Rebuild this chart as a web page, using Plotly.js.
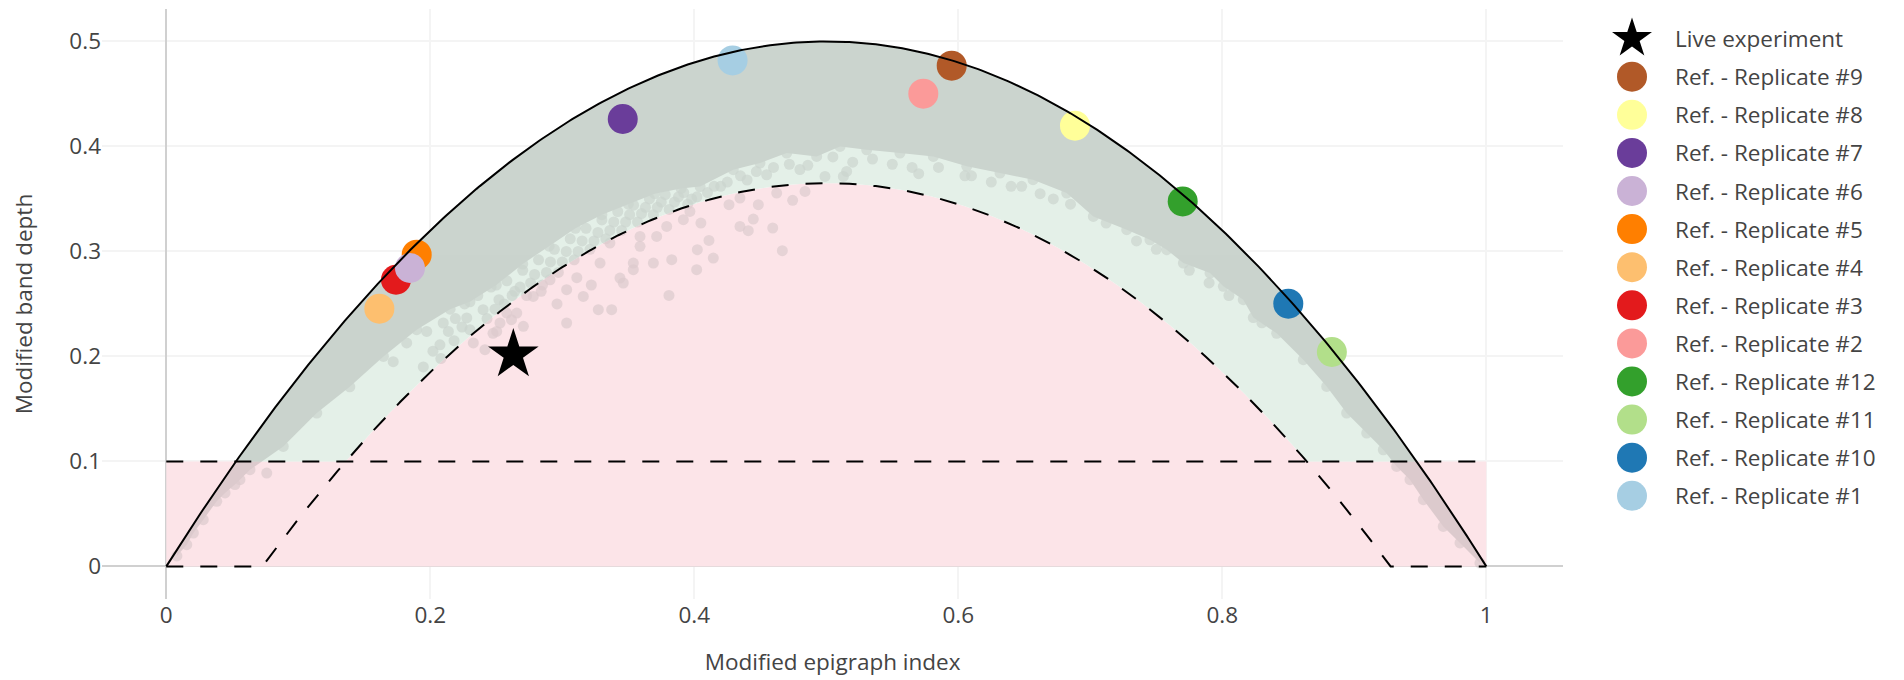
<!DOCTYPE html>
<html>
<head>
<meta charset="utf-8">
<script src="https://cdn.plot.ly/plotly-3.0.1.min.js"></script>
<style>
  html, body { margin: 0; padding: 0; background: #fff; }
  #chart { width: 1904px; height: 680px; }
</style>
</head>
<body>
<div id="chart"></div>
<script>
// Outliergram: modified epigraph index (MEI) against modified band depth (MBD)

// ---- reference replicates (one summary point each) ----
const replicateNames = [
  'Ref. - Replicate #1', 'Ref. - Replicate #10', 'Ref. - Replicate #11', 'Ref. - Replicate #12',
  'Ref. - Replicate #2', 'Ref. - Replicate #3', 'Ref. - Replicate #4', 'Ref. - Replicate #5',
  'Ref. - Replicate #6', 'Ref. - Replicate #7', 'Ref. - Replicate #8', 'Ref. - Replicate #9'
];
const replicateMEI = [0.429, 0.850, 0.883, 0.770, 0.5735, 0.174, 0.1614, 0.1897, 0.1846, 0.3458, 0.6884, 0.595];
const replicateMBD = [0.4819, 0.2502, 0.2042, 0.3476, 0.4502, 0.273, 0.2454, 0.2969, 0.2842, 0.4261, 0.4197, 0.4769];
const replicateColors = ['#a6cee3', '#1f78b4', '#b2df8a', '#33a02c', '#fb9a99', '#e31a1c',
                         '#fdbf6f', '#ff7f00', '#cab2d6', '#6a3d9a', '#ffff99', '#b15928'];

// ---- live experiment ----
const liveName = 'Live experiment';
const liveMEI = [0.2629];
const liveMBD = [0.2016];

// ---- theoretical bound MBD = a0 + a1*MEI + a2*MEI^2, and outlier thresholds ----
const boundCoef = [0, 2, -2];
const thresholdOffset = 0.135;
const mbdCutoff = 0.1;

// ---- reference curves: lower edge of the dense band (its upper edge is the bound) ----
const cloudEdgeMEI = [0.008, 0.0155, 0.0205, 0.028, 0.0382, 0.0445, 0.052, 0.0558, 0.0634, 0.0886,
  0.114, 0.139, 0.1645, 0.1897, 0.215, 0.23, 0.25, 0.27, 0.29, 0.31, 0.33, 0.35, 0.37, 0.39, 0.4044,
  0.4295, 0.4498, 0.47, 0.4927, 0.5104, 0.5306, 0.5558, 0.5811, 0.6064, 0.6316, 0.6566, 0.6821, 0.7023,
  0.7276, 0.7452, 0.7579, 0.7705, 0.7907, 0.8008, 0.8159, 0.8235, 0.8412, 0.8614, 0.8791, 0.8942,
  0.9094, 0.922, 0.9321, 0.9422, 0.9523, 0.9674, 0.9801, 0.9952];
const cloudEdgeMBD = [0.010, 0.0207, 0.0318, 0.0445, 0.062, 0.070, 0.078, 0.0826, 0.0921, 0.1143,
  0.146, 0.171, 0.200, 0.2254, 0.245, 0.252, 0.268, 0.288, 0.305, 0.322, 0.335, 0.345, 0.355, 0.36, 0.3617,
  0.3778, 0.3841, 0.3937, 0.3905, 0.40, 0.3968, 0.3937, 0.3905, 0.381, 0.3746, 0.3683, 0.3556, 0.3333,
  0.3207, 0.3111, 0.3016, 0.2889, 0.2794, 0.2667, 0.254, 0.237, 0.222, 0.1969, 0.1714, 0.1461,
  0.127, 0.1111, 0.0952, 0.0826, 0.0635, 0.0381, 0.0223, 0.0032];

// ---- reference curves lying outside the dense band ----
const cloudDotMEI = [
  0.0761, 0.1719, 0.1821, 0.1947, 0.1973, 0.2073, 0.2098, 0.2137, 0.2276, 0.230, 0.240,
  0.202, 0.208, 0.218, 0.224, 0.219, 0.243, 0.249, 0.256, 0.262, 0.268, 0.273, 0.279, 0.285, 0.291,
  0.297, 0.303, 0.309, 0.315, 0.321, 0.327, 0.333, 0.339, 0.345, 0.351, 0.357, 0.363, 0.369, 0.375,
  0.381, 0.388, 0.395, 0.402,
  0.226, 0.236, 0.246, 0.252, 0.258, 0.264, 0.27, 0.276, 0.282, 0.288, 0.294, 0.30, 0.306, 0.312,
  0.318, 0.324, 0.33, 0.336, 0.342, 0.348, 0.354, 0.36, 0.366, 0.372, 0.378, 0.385, 0.392, 0.398,
  0.41, 0.42, 0.44, 0.4548, 0.48, 0.499, 0.5129, 0.5154, 0.57, 0.605, 0.64, 0.672, 0.735, 0.79,
  0.415, 0.425, 0.435, 0.447, 0.46, 0.472, 0.486, 0.505, 0.52, 0.535, 0.55, 0.565, 0.585, 0.61,
  0.625, 0.648, 0.662, 0.685, 0.712, 0.75, 0.775, 0.805, 0.83,
  0.2326, 0.2414, 0.2503, 0.2528, 0.2579, 0.2655, 0.2705, 0.278, 0.2907, 0.3033, 0.3033, 0.3159,
  0.3273, 0.3286, 0.3374, 0.3361, 0.3437, 0.3462, 0.3538, 0.3538, 0.3589, 0.3589, 0.369, 0.3715,
  0.3791, 0.3808, 0.3829, 0.3917, 0.3967, 0.4018, 0.4023, 0.405, 0.4111, 0.4144, 0.4263, 0.4346,
  0.4346, 0.4409, 0.4447, 0.4485, 0.4594, 0.4624, 0.4667, 0.4745, 0.4839,
  0.284, 0.296, 0.311, 0.322, 0.2475, 0.2615
];
const cloudDotMBD = [
  0.0889, 0.195, 0.2128, 0.190, 0.2238, 0.211, 0.2318, 0.2238, 0.2366, 0.2254, 0.2445,
  0.205, 0.198, 0.215, 0.228, 0.236, 0.236, 0.245, 0.25, 0.258, 0.266, 0.258, 0.278, 0.268, 0.29,
  0.28, 0.30, 0.292, 0.31, 0.302, 0.318, 0.312, 0.328, 0.32, 0.335, 0.328, 0.342, 0.335, 0.347,
  0.34, 0.352, 0.345, 0.352,
  0.250, 0.258, 0.266, 0.254, 0.272, 0.262, 0.282, 0.27, 0.292, 0.28, 0.302, 0.29, 0.312, 0.30,
  0.322, 0.31, 0.33, 0.32, 0.338, 0.328, 0.344, 0.336, 0.35, 0.342, 0.354, 0.347, 0.356, 0.35,
  0.356, 0.362, 0.368, 0.373, 0.378, 0.3714, 0.3714, 0.3762, 0.374, 0.372, 0.362, 0.35, 0.31, 0.27,
  0.362, 0.366, 0.372, 0.376, 0.38, 0.383, 0.382, 0.39, 0.385, 0.388, 0.383, 0.38, 0.38, 0.372,
  0.366, 0.362, 0.355, 0.345, 0.327, 0.302, 0.282, 0.258, 0.232,
  0.2128, 0.2064, 0.2238, 0.2318, 0.2413, 0.2413, 0.2286, 0.2571, 0.273, 0.2318, 0.2635, 0.2571,
  0.2445, 0.2889, 0.2445, 0.308, 0.2746, 0.2699, 0.2826, 0.2889, 0.3048, 0.3143, 0.2889, 0.3143,
  0.3238, 0.2581, 0.2921, 0.3302, 0.3381, 0.2826, 0.3016, 0.327, 0.3105, 0.2937, 0.3445, 0.3238,
  0.3508, 0.3197, 0.3308, 0.3445, 0.3223, 0.3556, 0.3007, 0.3486, 0.3571,
  0.262, 0.25, 0.275, 0.268, 0.222, 0.235
];

// ---- styling ----
const FONT = '"Open Sans", verdana, arial, sans-serif';
const FONT_SIZE = 22.5;
const TEXT_COLOR = '#444';
const PINK = '#fce4e8';
const GREEN = '#e4f0e8';
const CLOUD_GRAY = '#808080';
const DOT_SIZE = 11;
const REPLICATE_SIZE = 30;
const STAR_SIZE = 38;
const DASH = '17px,17px';

function boundMBD(m) { return boundCoef[0] + boundCoef[1] * m + boundCoef[2] * m * m; }
function thresholdMBD(m) { return boundMBD(m) - thresholdOffset; }

// evaluation grid for the analytic curves
const GRID_STEPS = 400;
const grid = [];
for (let i = 0; i <= GRID_STEPS; i++) grid.push(i / GRID_STEPS);

const pinkTop = grid.map(m => Math.max(mbdCutoff, thresholdMBD(m)));
const greenTop = grid.map((m, i) => Math.max(boundMBD(m), pinkTop[i]));

// dense band polygon + individual curves, in one trace so overlaps do not darken
const e0 = cloudEdgeMEI[0], e1 = cloudEdgeMEI[cloudEdgeMEI.length - 1];
const upperX = [e0].concat(grid.filter(m => m > e0 && m < e1), [e1]);
const cloudX = upperX.concat(cloudEdgeMEI.slice().reverse());
const cloudY = upperX.map(boundMBD).concat(cloudEdgeMBD.slice().reverse());
const cloudS = upperX.map(() => 0).concat(cloudEdgeMEI.map(() => DOT_SIZE));
cloudDotMEI.forEach((m, i) => {
  cloudX.push(null, m); cloudY.push(null, cloudDotMBD[i]); cloudS.push(0, DOT_SIZE);
});

const traces = [];

traces.push({
  x: grid, y: pinkTop, mode: 'none', fill: 'tozeroy', fillcolor: PINK,
  hoverinfo: 'skip', showlegend: false
});
traces.push({
  x: grid, y: greenTop, mode: 'none', fill: 'tonexty', fillcolor: GREEN,
  hoverinfo: 'skip', showlegend: false
});
traces.push({
  x: cloudX, y: cloudY, mode: 'markers', fill: 'toself', fillcolor: CLOUD_GRAY,
  marker: { color: CLOUD_GRAY, size: cloudS, line: { width: 0 } },
  opacity: 0.25, connectgaps: false, hoverinfo: 'skip', showlegend: false
});

replicateNames.forEach((name, i) => {
  traces.push({
    x: [replicateMEI[i]], y: [replicateMBD[i]], name: name, mode: 'markers',
    marker: { color: replicateColors[i], size: REPLICATE_SIZE, line: { width: 0 } },
    showlegend: false
  });
});

traces.push({
  x: grid, y: grid.map(boundMBD), mode: 'lines',
  line: { color: '#000', width: 2 }, hoverinfo: 'skip', showlegend: false
});
traces.push({
  x: grid, y: grid.map(m => Math.max(0, thresholdMBD(m))), mode: 'lines',
  line: { color: '#000', width: 2, dash: DASH }, hoverinfo: 'skip', showlegend: false
});
traces.push({
  x: [0, 1], y: [mbdCutoff, mbdCutoff], mode: 'lines',
  line: { color: '#000', width: 2, dash: DASH }, hoverinfo: 'skip', showlegend: false
});

traces.push({
  x: liveMEI, y: liveMBD, name: liveName, mode: 'markers',
  marker: { symbol: 'star', color: '#000', size: STAR_SIZE, line: { width: 0 } },
  showlegend: false
});

// ---- legend drawn on its own hidden axes ----
const legendNames = [liveName].concat(replicateNames.slice().reverse());
const legendColors = ['#000'].concat(replicateColors.slice().reverse());
const legendSymbols = ['star'].concat(replicateNames.map(() => 'circle'));
const legendIndex = legendNames.map((_, i) => i);
const LEGEND_ROW0 = 38.6, LEGEND_ROW_STEP = 38.1;   // px from top of figure
const PLOT_TOP = 9, PLOT_BOTTOM = 599;
const legendRange = [(PLOT_BOTTOM - LEGEND_ROW0) / LEGEND_ROW_STEP, (PLOT_TOP - LEGEND_ROW0) / LEGEND_ROW_STEP];

traces.push({
  x: legendIndex.map(() => 42), y: legendIndex, xaxis: 'x2', yaxis: 'y2', mode: 'markers',
  marker: { symbol: legendSymbols, color: legendColors, size: 30, line: { width: 0 } },
  hoverinfo: 'skip', showlegend: false
});

const legendLabels = legendNames.map((name, i) => ({
  xref: 'x2', yref: 'y2', x: 83, y: i, text: name, showarrow: false,
  xanchor: 'left', yanchor: 'middle',
  font: { family: FONT, size: FONT_SIZE, color: TEXT_COLOR }
}));

const axisCommon = {
  showgrid: true, gridcolor: '#f4f4f4', gridwidth: 2,
  zeroline: true, zerolinecolor: '#d0d0d0', zerolinewidth: 2,
  showline: false, ticks: '',
  tickfont: { family: FONT, size: FONT_SIZE, color: TEXT_COLOR }
};

const layout = {
  width: 1904, height: 680,
  margin: { l: 102, r: 0, t: PLOT_TOP, b: 680 - PLOT_BOTTOM, pad: 0 },
  paper_bgcolor: '#fff', plot_bgcolor: '#fff',
  font: { family: FONT, size: FONT_SIZE, color: TEXT_COLOR },
  showlegend: false,
  hovermode: false,
  xaxis: Object.assign({}, axisCommon, {
    domain: [0, 0.81093], range: [-0.04871, 1.05833], dtick: 0.2, tick0: 0,
    title: { text: 'Modified epigraph index', standoff: 25,
             font: { family: FONT, size: FONT_SIZE, color: TEXT_COLOR } }
  }),
  yaxis: Object.assign({}, axisCommon, {
    range: [-0.03105, 0.53086], dtick: 0.1, tick0: 0,
    title: { text: 'Modified band depth', standoff: 30,
             font: { family: FONT, size: FONT_SIZE, color: TEXT_COLOR } }
  }),
  xaxis2: { domain: [0.82575, 1], range: [0, 314], visible: false, fixedrange: true, anchor: 'y2' },
  yaxis2: { domain: [0, 1], range: legendRange, visible: false, fixedrange: true, anchor: 'x2' },
  annotations: legendLabels
};

Plotly.newPlot('chart', traces, layout, { staticPlot: true, displayModeBar: false });
</script>
</body>
</html>
